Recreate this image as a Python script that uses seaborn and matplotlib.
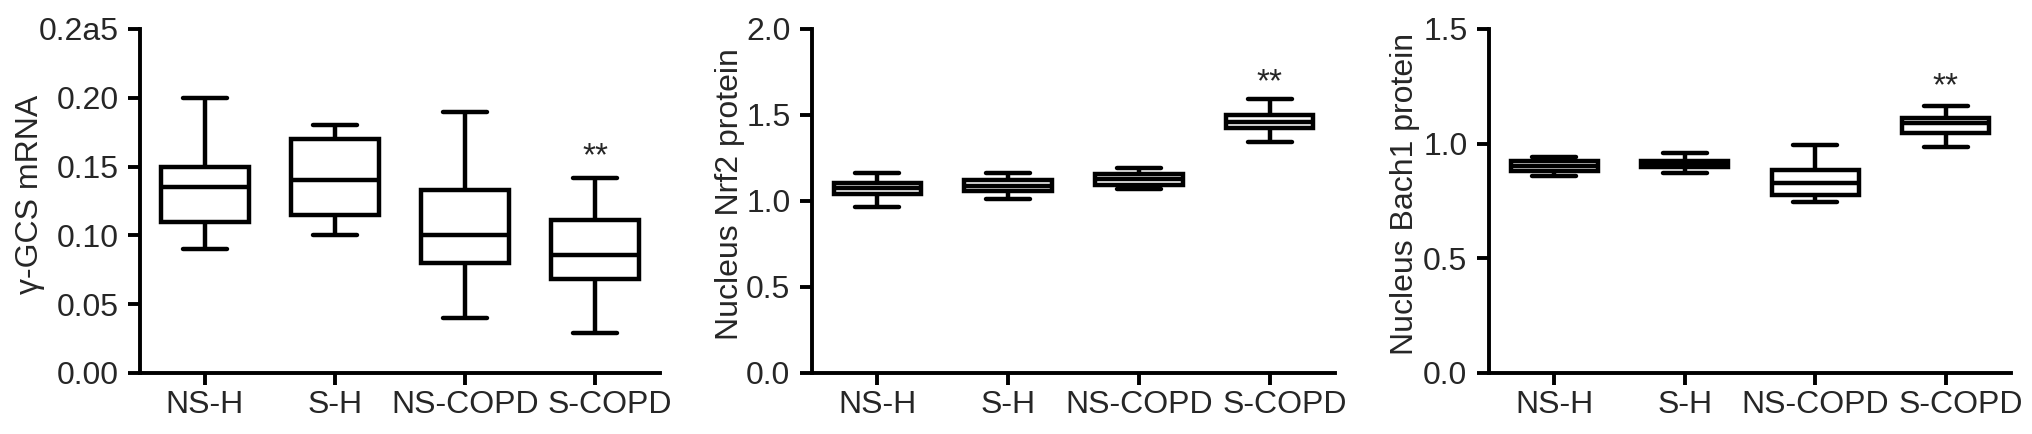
import numpy as np
import pandas as pd
import matplotlib
matplotlib.use("Agg")
import matplotlib.pyplot as plt
import matplotlib.transforms as mtransforms
import seaborn as sns

# ---------------- data (five-number summaries) ----------------
# each row: [lower whisker, Q1, median, Q3, upper whisker]
groups = ["NS-H", "S-H", "NS-COPD", "S-COPD"]

gcs_mrna = [
    [0.090, 0.110, 0.135, 0.150, 0.200],
    [0.100, 0.115, 0.140, 0.170, 0.180],
    [0.040, 0.080, 0.100, 0.133, 0.190],
    [0.029, 0.068, 0.086, 0.111, 0.142],
]
nrf2_protein = [
    [0.963, 1.039, 1.074, 1.106, 1.165],
    [1.010, 1.058, 1.087, 1.122, 1.165],
    [1.070, 1.093, 1.128, 1.155, 1.190],
    [1.341, 1.423, 1.458, 1.500, 1.591],
]
bach1_protein = [
    [0.859, 0.881, 0.903, 0.925, 0.942],
    [0.872, 0.899, 0.912, 0.925, 0.959],
    [0.744, 0.776, 0.830, 0.885, 0.994],
    [0.984, 1.048, 1.092, 1.111, 1.164],
]

gcs_ticks = [0.00, 0.05, 0.10, 0.15, 0.20, 0.25]
gcs_ticklabels = ["0.00", "0.05", "0.10", "0.15", "0.20", "0.2a5"]
nrf2_ticks = [0.0, 0.5, 1.0, 1.5, 2.0]
nrf2_ticklabels = ["0.0", "0.5", "1.0", "1.5", "2.0"]
bach1_ticks = [0.0, 0.5, 1.0, 1.5]
bach1_ticklabels = ["0.0", "0.5", "1.0", "1.5"]

ylabels = ["\u03b3-GCS mRNA", "Nucleus Nrf2 protein", "Nucleus Bach1 protein"]
star_y = [0.163, 1.733, 1.285]   # position of the ** above S-COPD


def to_long(summary):
    """five-number rows -> long table seaborn can box (whis=(0,100) keeps min/max as whiskers)"""
    rows = []
    for grp, vals in zip(groups, summary):
        for v in vals:
            rows.append({"group": grp, "value": v})
    return pd.DataFrame(rows)


# ---------------- style ----------------
sns.set_style("ticks")
plt.rcParams['font.family'] = ['Liberation Sans', 'DejaVu Sans']
plt.rcParams['axes.linewidth'] = 2.8
FS = 23

fig = plt.figure(figsize=(20.32, 4.34), dpi=100)

rects = [
    [140 / 2032, 61 / 434, 520 / 2032, 344 / 434],
    [812 / 2032, 61 / 434, 523 / 2032, 344 / 434],
    [1489 / 2032, 61 / 434, 522 / 2032, 344 / 434],
]
panels = [
    (gcs_mrna, gcs_ticks, gcs_ticklabels, (0, 0.25)),
    (nrf2_protein, nrf2_ticks, nrf2_ticklabels, (0, 2.0)),
    (bach1_protein, bach1_ticks, bach1_ticklabels, (0, 1.5)),
]
label_x = [-0.183, -0.128, -0.132]

for i, (summary, ticks, ticklabels, ylim) in enumerate(panels):
    ax = fig.add_axes(rects[i])
    df = to_long(summary)
    sns.boxplot(data=df, x="group", y="value", order=groups, ax=ax,
                whis=(0, 100), width=0.67, color="white", linecolor="black",
                linewidth=3.2, saturation=1)

    ax.set_xlim(-0.5, 3.5)
    ax.set_ylim(*ylim)
    ax.set_xticks(range(len(groups)))
    ax.set_xticklabels(groups)
    ax.set_yticks(ticks)
    ax.set_yticklabels(ticklabels)
    ax.set_xlabel("")
    ax.set_ylabel(ylabels[i], fontsize=FS)
    ax.yaxis.set_label_coords(label_x[i], 0.52)
    ax.tick_params(axis='both', length=8.5, width=2.8, labelsize=FS, color='black')
    ax.tick_params(axis='y', pad=7)
    ax.tick_params(axis='x', pad=4)
    sns.despine(ax=ax)
    for sp in ax.spines.values():
        sp.set_color('black')

    # last category label sits a bit to the right in the original
    lab = ax.xaxis.get_major_ticks()[3].label1
    lab.set_transform(lab.get_transform() +
                      mtransforms.ScaledTranslation(0.15, 0, fig.dpi_scale_trans))

    ax.annotate("**", xy=(3, star_y[i]), xytext=(0, -6), textcoords='offset points',
                ha='center', va='center', fontsize=24)

fig.savefig("out.png", dpi=100)
